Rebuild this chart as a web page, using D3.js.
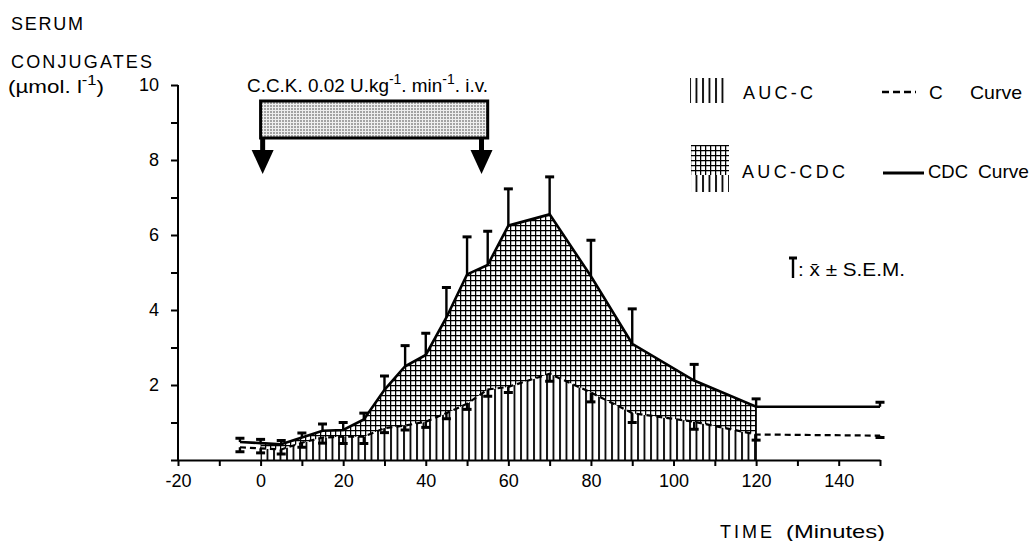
<!DOCTYPE html>
<html>
<head>
<meta charset="utf-8">
<script src="https://cdn.jsdelivr.net/npm/d3@7"></script>
<style>
  html, body { margin: 0; padding: 0; background: #fff; }
  svg { display: block; }
  text { font-family: "Liberation Sans Narrow", "Liberation Sans", Arial, sans-serif; fill: #000; }
</style>
</head>
<body>
<div id="chart"></div>
<script>
// sampling times (minutes)
const times = [-5, 0, 5, 10, 15, 20, 25, 30, 35, 40, 45, 50, 55, 60, 70, 80, 90, 105, 120, 150];

// CDC curve (mean, SEM) in umol/l
const cdcMean = [0.48, 0.45, 0.42, 0.6, 0.78, 0.8, 1.08, 1.87, 2.5, 2.8, 3.8, 4.95, 5.2, 6.25, 6.55, 4.9, 3.1, 2.12, 1.42, 1.42];
const cdcSem = [0.1, 0.1, 0.1, 0.12, 0.18, 0.2, 0.17, 0.37, 0.55, 0.58, 0.8, 1.0, 0.9, 0.98, 1.0, 0.96, 0.93, 0.43, 0.21, 0.12];

// C curve (mean, SEM)
const cMean = [0.34, 0.31, 0.28, 0.46, 0.6, 0.62, 0.62, 0.85, 0.92, 1.02, 1.25, 1.5, 1.88, 1.95, 2.3, 1.8, 1.25, 1.02, 0.68, 0.65];
const cSem = [0.12, 0.12, 0.12, 0.12, 0.15, 0.18, 0.18, 0.12, 0.12, 0.15, 0.15, 0.15, 0.18, 0.15, 0.2, 0.25, 0.25, 0.2, 0.15, 0.05];

// axes
const xTicks = [-20, -10, 0, 10, 20, 30, 40, 50, 60, 70, 80, 90, 100, 110, 120, 130, 140, 150];
const xTickLabels = [-20, 0, 20, 40, 60, 80, 100, 120, 140];
const yTicks = [0, 1, 2, 3, 4, 5, 6, 7, 8, 9, 10];
const yTickLabels = [2, 4, 6, 8, 10];

// shaded AUC window and CCK infusion
const aucWindow = [0, 120];
const infusion = [0, 55];
const arrowTimes = [0.5, 53.5];

const width = 1030;
const height = 541;

const svg = d3.select("#chart")
    .append("svg")
    .attr("width", width)
    .attr("height", height);

const x = d3.scaleLinear().domain([-20, 150]).range([178, 880]);
const y = d3.scaleLinear().domain([0, 10]).range([460, 85]);

// patterns
const defs = svg.append("defs");

defs.append("pattern")
    .attr("id", "vlines")
    .attr("patternUnits", "userSpaceOnUse")
    .attr("width", 6.5).attr("height", 10)
    .append("line")
    .attr("x1", 1).attr("x2", 1).attr("y1", 0).attr("y2", 10)
    .attr("stroke", "#000").attr("stroke-width", 1.8);

const grid = defs.append("pattern")
    .attr("id", "grid")
    .attr("patternUnits", "userSpaceOnUse")
    .attr("width", 5).attr("height", 5);
grid.append("rect").attr("width", 5).attr("height", 5).attr("fill", "#fff");
grid.append("path")
    .attr("d", "M0,0.6H5M0.6,0V5")
    .attr("stroke", "#000").attr("stroke-width", 1.3);

const dots = defs.append("pattern")
    .attr("id", "dots")
    .attr("patternUnits", "userSpaceOnUse")
    .attr("width", 3).attr("height", 3);
dots.append("rect").attr("width", 3).attr("height", 3).attr("fill", "#eee");
dots.append("circle").attr("cx", 1).attr("cy", 1).attr("r", 0.8).attr("fill", "#444");

// data points as objects
const pts = times.map((t, i) => ({ t: t, cdc: cdcMean[i], cdcSem: cdcSem[i], c: cMean[i], cSem: cSem[i] }));
const aucPts = pts.filter(d => d.t >= aucWindow[0] && d.t <= aucWindow[1]);

// AUC-C: under the C curve
svg.append("path")
    .datum(aucPts)
    .attr("fill", "url(#vlines)")
    .attr("d", d3.area().x(d => x(d.t)).y0(y(0)).y1(d => y(d.c)));

// AUC-CDC: between the two curves
svg.append("path")
    .datum(aucPts)
    .attr("fill", "url(#grid)")
    .attr("d", d3.area().x(d => x(d.t)).y0(d => y(d.c)).y1(d => y(d.cdc)));

// closing line at 120 min
svg.append("line")
    .attr("x1", x(aucWindow[1])).attr("x2", x(aucWindow[1]))
    .attr("y1", y(0)).attr("y2", y(aucPts[aucPts.length - 1].cdc))
    .attr("stroke", "#000").attr("stroke-width", 1.5);

// curves
svg.append("path")
    .datum(pts)
    .attr("fill", "none")
    .attr("stroke", "#000")
    .attr("stroke-width", 2.2)
    .attr("stroke-dasharray", "6,4")
    .attr("d", d3.line().x(d => x(d.t)).y(d => y(d.c)));

svg.append("path")
    .datum(pts)
    .attr("fill", "none")
    .attr("stroke", "#000")
    .attr("stroke-width", 2.6)
    .attr("d", d3.line().x(d => x(d.t)).y(d => y(d.cdc)));

// error bars: CDC upward, C downward
const errG = svg.append("g").attr("stroke", "#000").attr("stroke-width", 2.4);
pts.forEach(d => {
    errG.append("line")
        .attr("x1", x(d.t)).attr("x2", x(d.t))
        .attr("y1", y(d.cdc)).attr("y2", y(d.cdc + d.cdcSem));
    errG.append("line")
        .attr("x1", x(d.t) - 4.5).attr("x2", x(d.t) + 4.5)
        .attr("y1", y(d.cdc + d.cdcSem)).attr("y2", y(d.cdc + d.cdcSem))
        .attr("stroke-width", 3);
    errG.append("line")
        .attr("x1", x(d.t)).attr("x2", x(d.t))
        .attr("y1", y(d.c)).attr("y2", y(d.c - d.cSem));
    errG.append("line")
        .attr("x1", x(d.t) - 4.5).attr("x2", x(d.t) + 4.5)
        .attr("y1", y(d.c - d.cSem)).attr("y2", y(d.c - d.cSem))
        .attr("stroke-width", 3);
});

// axes
const xAxis = svg.append("g")
    .attr("transform", `translate(0,${y(0)})`)
    .call(d3.axisBottom(x)
        .tickValues(xTicks)
        .tickSize(6)
        .tickSizeOuter(0)
        .tickPadding(8)
        .tickFormat(d => xTickLabels.includes(d) ? d : ""));

const yAxis = svg.append("g")
    .attr("transform", `translate(${x(-20)},0)`)
    .call(d3.axisLeft(y)
        .tickValues(yTicks)
        .tickSize(7)
        .tickSizeOuter(0)
        .tickPadding(12)
        .tickFormat(d => yTickLabels.includes(d) && d > 0 ? d : ""));

[xAxis, yAxis].forEach(a => {
    a.selectAll("path, line").attr("stroke", "#000").attr("stroke-width", 2);
    a.selectAll("text")
        .attr("font-size", 18)
        .attr("font-family", "'Liberation Sans Narrow', 'Liberation Sans', Arial, sans-serif");
});
yAxis.select(".domain").attr("d", `M0,${y(10)}V${y(0) + 1}`);

// CCK infusion bar and arrows
svg.append("rect")
    .attr("x", x(infusion[0])).attr("y", 101)
    .attr("width", x(infusion[1]) - x(infusion[0])).attr("height", 37)
    .attr("fill", "url(#dots)")
    .attr("stroke", "#000").attr("stroke-width", 3);

arrowTimes.forEach(t => {
    svg.append("line")
        .attr("x1", x(t)).attr("x2", x(t)).attr("y1", 138).attr("y2", 152)
        .attr("stroke", "#000").attr("stroke-width", 5);
    svg.append("path")
        .attr("d", `M${x(t) - 11},150L${x(t) + 11},150L${x(t)},174Z`)
        .attr("fill", "#000");
});

const cck = svg.append("text").attr("x", 247).attr("y", 92).attr("font-size", 19)
    .attr("textLength", 241).attr("lengthAdjust", "spacingAndGlyphs");
cck.append("tspan").text("C.C.K. 0.02 U.kg");
cck.append("tspan").attr("dy", -8).attr("font-size", 14).text("-1");
cck.append("tspan").attr("dy", 8).text(". min");
cck.append("tspan").attr("dy", -8).attr("font-size", 14).text("-1");
cck.append("tspan").attr("dy", 8).text(". i.v.");

// letter-spaced labels
function spaced(xp, yp, size, len, str) {
    return svg.append("text").attr("x", xp).attr("y", yp).attr("font-size", size)
        .attr("textLength", len).attr("lengthAdjust", "spacing").text(str);
}

// y title
spaced(11, 30, 18, 72, "SERUM");
spaced(11, 68, 18, 141, "CONJUGATES");
const unit = svg.append("text").attr("x", 8).attr("y", 93).attr("font-size", 19)
    .attr("textLength", 96).attr("lengthAdjust", "spacingAndGlyphs");
unit.append("tspan").text("(\u00b5mol. l");
unit.append("tspan").attr("dy", -8).attr("font-size", 14).text("-1");
unit.append("tspan").attr("dy", 8).text(")");

// x title
spaced(720, 538, 18, 52, "TIME");
svg.append("text").attr("x", 786).attr("y", 538).attr("font-size", 19)
    .attr("textLength", 99).attr("lengthAdjust", "spacingAndGlyphs").text("(Minutes)");

// legend
svg.append("rect").attr("x", 690).attr("y", 78).attr("width", 38).attr("height", 25)
    .attr("fill", "url(#vlines)");
spaced(743, 99, 18, 70, "AUC-C");
svg.append("line").attr("x1", 882).attr("x2", 916).attr("y1", 92).attr("y2", 92)
    .attr("stroke", "#000").attr("stroke-width", 2.5).attr("stroke-dasharray", "7,4");
svg.append("text").attr("x", 929).attr("y", 99).attr("font-size", 19).text("C");
svg.append("text").attr("x", 970).attr("y", 99).attr("font-size", 19)
    .attr("textLength", 52).attr("lengthAdjust", "spacingAndGlyphs").text("Curve");

svg.append("rect").attr("x", 691).attr("y", 145).attr("width", 38).attr("height", 30)
    .attr("fill", "url(#grid)");
svg.append("rect").attr("x", 691).attr("y", 175).attr("width", 38).attr("height", 17)
    .attr("fill", "url(#vlines)");
spaced(742, 178, 18, 103, "AUC-CDC");
svg.append("line").attr("x1", 883).attr("x2", 924).attr("y1", 173).attr("y2", 173)
    .attr("stroke", "#000").attr("stroke-width", 2.8);
svg.append("text").attr("x", 928).attr("y", 178).attr("font-size", 19)
    .attr("textLength", 40).attr("lengthAdjust", "spacingAndGlyphs").text("CDC");
svg.append("text").attr("x", 978).attr("y", 178).attr("font-size", 19)
    .attr("textLength", 51).attr("lengthAdjust", "spacingAndGlyphs").text("Curve");

// SEM key
svg.append("line").attr("x1", 793).attr("x2", 793).attr("y1", 258).attr("y2", 278)
    .attr("stroke", "#000").attr("stroke-width", 2.4);
svg.append("line").attr("x1", 789).attr("x2", 797).attr("y1", 258).attr("y2", 258)
    .attr("stroke", "#000").attr("stroke-width", 3);
svg.append("text").attr("x", 798).attr("y", 276).attr("font-size", 19)
    .attr("textLength", 107).attr("lengthAdjust", "spacingAndGlyphs")
    .text(": x\u0304 \u00b1 S.E.M.");
</script>
</body>
</html>
